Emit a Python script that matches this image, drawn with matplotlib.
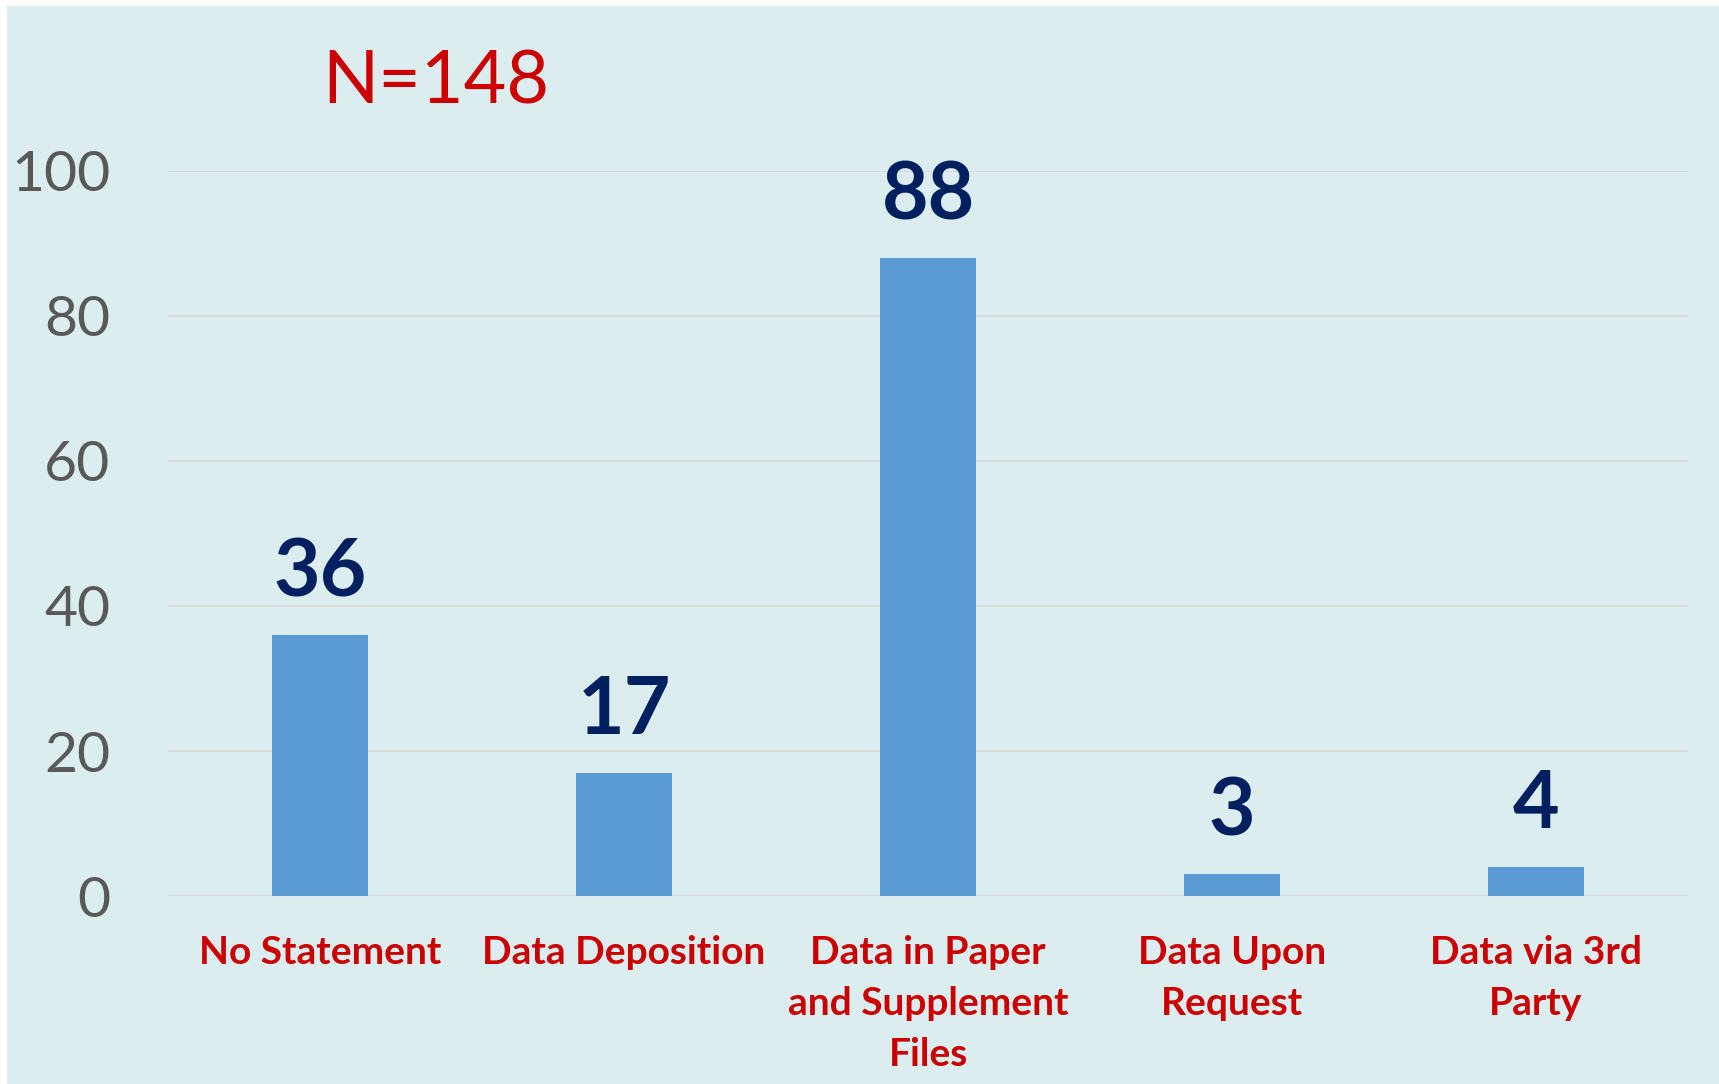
import matplotlib
matplotlib.use('Agg')
import matplotlib.pyplot as plt
from matplotlib.patches import Rectangle

plt.rcParams.update({
    'font.family': ['Lato', 'DejaVu Sans'],
})

# data
categories = ["No Statement", "Data Deposition", "Data in Paper\nand Supplement\nFiles",
              "Data Upon\nRequest", "Data via 3rd\nParty"]
counts = [36, 17, 88, 3, 4]
y_ticks = [0, 20, 40, 60, 80, 100]
title_text = "N=148"

BG = "#DBEDEF"
BAR = "#5B9BD5"
GRID = "#D9D9D9"
RED = "#CC0000"
NAVY = "#002060"

fig = plt.figure(figsize=(17.19, 10.84), dpi=100, facecolor="white")
fig.patches.append(Rectangle((7 / 1719, 0), 1, 1 - 6 / 1084, transform=fig.transFigure,
                             facecolor=BG, edgecolor="none", zorder=-5))

ax = fig.add_axes([0.0977, 0.1734, 0.8843, 0.6689])
ax.set_facecolor("none")
ax.set_zorder(2)

x = list(range(len(categories)))
ax.bar(x, counts, width=0.314, color=BAR, zorder=3)

for xi, v in zip(x, counts):
    ax.annotate(str(v), (xi, v), xytext=(0, 28), textcoords="offset points",
                ha="center", va="baseline", fontsize=58, fontweight="bold",
                color=NAVY)

ax.set_xlim(-0.5, len(categories) - 0.5)
ax.set_ylim(0, 100)
ax.set_yticks(y_ticks)
ax.yaxis.grid(True, color=GRID, linewidth=1.5, zorder=0)
ax.set_axisbelow(True)
for s in ax.spines.values():
    s.set_visible(False)

ax.set_xticks(x)
ax.set_xticklabels(categories, fontsize=28, fontweight="bold", color=RED,
                   linespacing=1.55)
ax.tick_params(axis="x", length=0, pad=28)
ax.tick_params(axis="y", length=0, pad=41.5, labelsize=41, labelcolor="#595959")

fig.text(436 / 1719, 1 - 83 / 1084, title_text, ha="center", va="center",
         fontsize=53, color=RED, zorder=5)

plt.savefig("out.png", dpi=100, facecolor=fig.get_facecolor())
